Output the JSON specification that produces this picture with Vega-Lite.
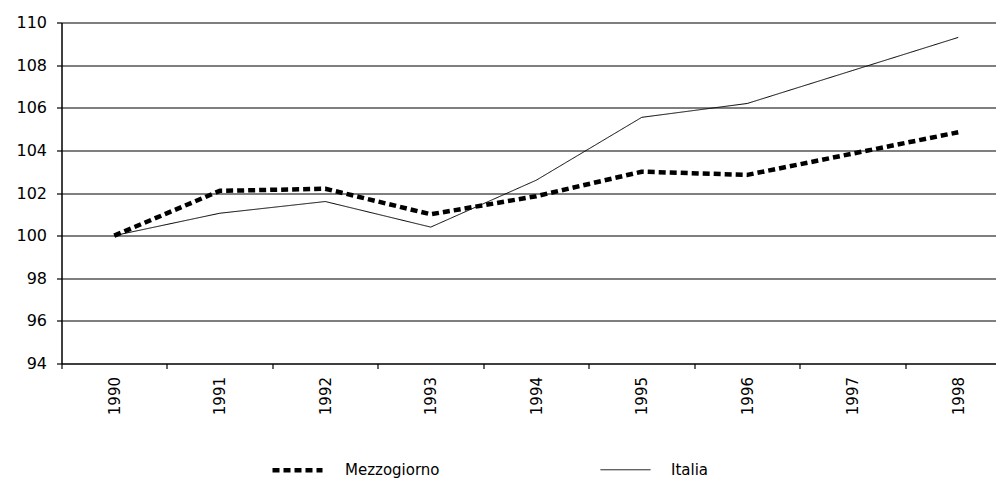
{
  "$schema": "https://vega.github.io/schema/vega-lite/v6.json",
  "width": 934.5,
  "height": 341,
  "autosize": {"type": "none"},
  "padding": {"left": 61.5, "top": 22.5, "right": 0, "bottom": 116.5},
  "background": "white",
  "config": {"view": {"stroke": null}, "font": "DejaVu Sans"},
  "data": {
    "values": [
      {"series": "Mezzogiorno", "year": 1990, "value": 100},
      {"series": "Mezzogiorno", "year": 1991, "value": 102.1},
      {"series": "Mezzogiorno", "year": 1992, "value": 102.2},
      {"series": "Mezzogiorno", "year": 1993, "value": 101.0},
      {"series": "Mezzogiorno", "year": 1994, "value": 101.85},
      {"series": "Mezzogiorno", "year": 1995, "value": 103.0},
      {"series": "Mezzogiorno", "year": 1996, "value": 102.85},
      {"series": "Mezzogiorno", "year": 1997, "value": 103.85},
      {"series": "Mezzogiorno", "year": 1998, "value": 104.85},
      {"series": "Italia", "year": 1990, "value": 100},
      {"series": "Italia", "year": 1991, "value": 101.05},
      {"series": "Italia", "year": 1992, "value": 101.6},
      {"series": "Italia", "year": 1993, "value": 100.4},
      {"series": "Italia", "year": 1994, "value": 102.6},
      {"series": "Italia", "year": 1995, "value": 105.55},
      {"series": "Italia", "year": 1996, "value": 106.2},
      {"series": "Italia", "year": 1997, "value": 107.75},
      {"series": "Italia", "year": 1998, "value": 109.3}
    ]
  },
  "mark": {"type": "line", "color": "black", "strokeCap": "butt", "strokeJoin": "round"},
  "encoding": {
    "x": {
      "field": "year",
      "type": "quantitative",
      "scale": {"domain": [1989.5, 1998.358], "nice": false, "zero": false},
      "axis": {
        "title": null,
        "values": [1989.5, 1990.5, 1991.5, 1992.5, 1993.5, 1994.5, 1995.5, 1996.5, 1997.5],
        "labelExpr": "format(datum.value + 0.5, 'd')",
        "labelAngle": -90,
        "labelOffset": 52.75,
        "labelFontSize": 15,
        "labelColor": "black",
        "labelPadding": 8,
        "labelFlush": false,
        "labelOverlap": false,
        "labelBound": false,
        "tickSize": 5,
        "tickColor": "black",
        "tickWidth": 1.2,
        "domain": true,
        "domainColor": "black",
        "domainWidth": 1.2,
        "grid": false
      }
    },
    "y": {
      "field": "value",
      "type": "quantitative",
      "scale": {"domain": [94, 110], "nice": false, "zero": false},
      "axis": {
        "title": null,
        "values": [94, 96, 98, 100, 102, 104, 106, 108, 110],
        "grid": true,
        "gridColor": "black",
        "gridWidth": 1.2,
        "gridOpacity": 1,
        "tickSize": 5,
        "tickColor": "black",
        "tickWidth": 1.2,
        "domainColor": "black",
        "domainWidth": 1.5,
        "labelFontSize": 16,
        "labelColor": "black",
        "labelPadding": 10
      }
    },
    "strokeDash": {
      "field": "series",
      "type": "nominal",
      "scale": {"domain": ["Mezzogiorno", "Italia"], "range": [[7, 4], [1, 0]]},
      "legend": {
        "title": null,
        "orient": "none",
        "legendX": 208.5,
        "legendY": 420,
        "direction": "horizontal",
        "symbolType": "stroke",
        "symbolSize": 2500,
        "symbolStrokeColor": "black",
        "labelFontSize": 15,
        "labelColor": "black",
        "labelOffset": 20,
        "columnPadding": 158
      }
    },
    "strokeWidth": {
      "field": "series",
      "type": "nominal",
      "scale": {"type": "ordinal", "domain": ["Mezzogiorno", "Italia"], "range": [4.5, 1]},
      "legend": {
        "title": null,
        "orient": "none",
        "legendX": 208.5,
        "legendY": 420,
        "direction": "horizontal",
        "symbolType": "stroke",
        "symbolSize": 2500,
        "symbolStrokeColor": "black",
        "labelFontSize": 15,
        "labelColor": "black",
        "labelOffset": 20,
        "columnPadding": 158
      }
    }
  }
}
